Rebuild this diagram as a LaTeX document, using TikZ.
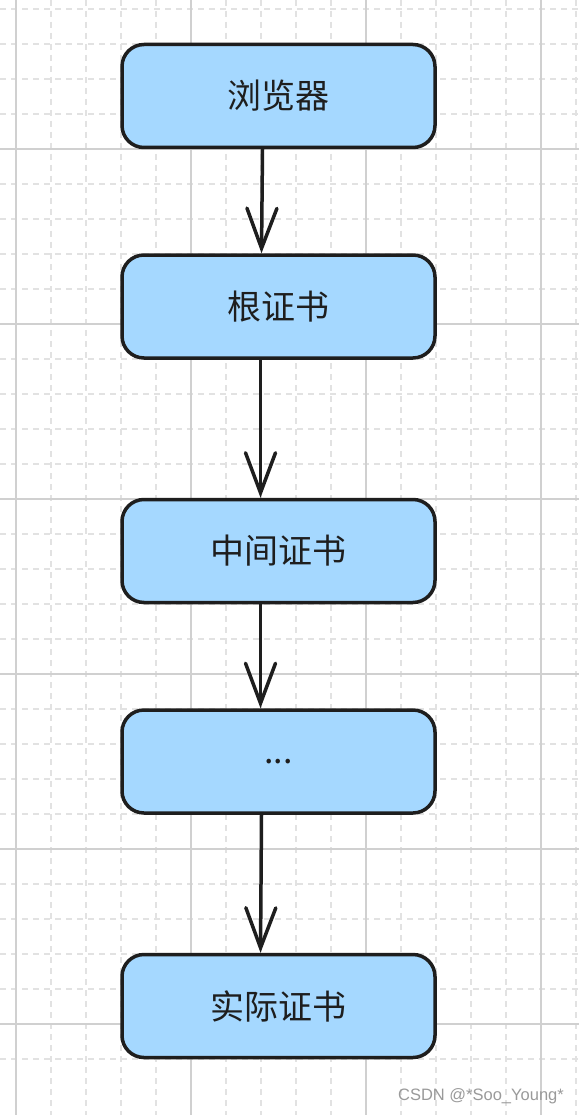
\documentclass[tikz,border=0pt]{standalone}
\usepackage{fontspec}
\newfontfamily\cjk{Noto Sans CJK SC}
\setsansfont{Liberation Sans}
\usetikzlibrary{arrows.meta}
\definecolor{boxfill}{HTML}{A5D8FF}
\definecolor{ink}{HTML}{1E1E1E}
\definecolor{gridmajor}{HTML}{D0D0D0}
\definecolor{gridminor}{HTML}{E2E2E2}
\definecolor{wm}{HTML}{9A9A9A}
\tikzset{
  flowbox/.style={draw=ink, fill=boxfill, line width=3.5pt, rounded corners=22pt,
    minimum width=313pt, minimum height=103pt, inner sep=0pt,
    font=\cjk\fontsize{34}{40}\selectfont, text=ink},
  flowarrow/.style={draw=ink, line width=3.5pt, line cap=round,
    -{Straight Barb[length=40pt,width=30pt,line cap=round]}},
  majorgrid/.style={draw=gridmajor, line width=2pt},
  minorgrid/.style={draw=gridminor, line width=1.4pt, dash pattern=on 6pt off 5pt},
}
\begin{document}
\begin{tikzpicture}[x=1pt,y=-1pt]
\useasboundingbox (0,0) rectangle (579,1115);
\fill[white] (0,0) rectangle (579,1115);
% minor grid
\foreach \k in {1,2,3,4,6,7,8,9,11,12,13,14,16,17,18,19,21,22,23,24}{
  \draw[minorgrid] ({16+35*\k-175},0) -- ({16+35*\k-175},1115);
}
\foreach \k in {0,1,2,3,...,31}{
  \pgfmathtruncatemacro{\r}{mod(\k,5)}
  \ifnum\r=0\relax\else
    \draw[minorgrid] (0,{149+35*(\k-5)}) -- (579,{149+35*(\k-5)});
  \fi
}
% major grid
\foreach \x in {16,191,366,541}{
  \draw[majorgrid] (\x,0) -- (\x,1115);
}
\foreach \y in {149,324,499,674,849,1024}{
  \draw[majorgrid] (0,\y) -- (579,\y);
}
% boxes
\node[flowbox] (b1) at (278.5,96) {浏览器};
\node[flowbox] (b2) at (278.5,306.5) {根证书};
\node[flowbox] (b3) at (278.5,551) {中间证书};
\node[flowbox] (b4) at (278.5,761.5) {...};
\node[flowbox] (b5) at (278.5,1006) {实际证书};
% arrows
\draw[flowarrow] ([xshift=-16pt]b1.south) -- ([xshift=-17pt]b2.north);
\draw[flowarrow] ([xshift=-18pt]b2.south) -- ([xshift=-18pt]b3.north);
\draw[flowarrow] ([xshift=-18pt]b3.south) -- ([xshift=-18pt]b4.north);
\draw[flowarrow] ([xshift=-17pt]b4.south) -- ([xshift=-18pt]b5.north);
% watermark
\node[anchor=east, inner sep=0pt, text=wm, font=\sffamily\fontsize{16.5}{19}\selectfont] (wmark) at (564,1096) {CSDN @*Soo\_Young*};
\end{tikzpicture}
\end{document}
